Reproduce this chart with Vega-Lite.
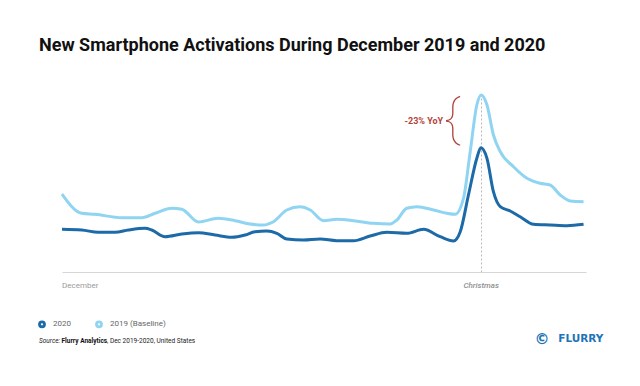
{
  "$schema": "https://vega.github.io/schema/vega-lite/v6.json",
  "width": 524,
  "height": 178,
  "autosize": "none",
  "padding": {"left": 62, "top": 94, "right": 54, "bottom": 114},
  "background": "white",
  "config": {"view": {"stroke": null}},
  "title": {
    "text": "New Smartphone Activations During December 2019 and 2020",
    "anchor": "start",
    "font": "Roboto",
    "fontSize": 18,
    "fontWeight": "bold",
    "color": "#111111",
    "dx": 1,
    "baseline": "alphabetic",
    "offset": 20
  },
  "layer": [
    {
      "data": {"values": [
        {"series": "2019 (Baseline)", "day": 1.0, "value": 78},
        {"series": "2019 (Baseline)", "day": 2.13, "value": 58.7},
        {"series": "2019 (Baseline)", "day": 2.89, "value": 57.7},
        {"series": "2019 (Baseline)", "day": 4.42, "value": 54.3},
        {"series": "2019 (Baseline)", "day": 5.57, "value": 54.3},
        {"series": "2019 (Baseline)", "day": 6.33, "value": 58.7},
        {"series": "2019 (Baseline)", "day": 7.28, "value": 63.7},
        {"series": "2019 (Baseline)", "day": 7.86, "value": 62.7},
        {"series": "2019 (Baseline)", "day": 8.81, "value": 50},
        {"series": "2019 (Baseline)", "day": 9.94, "value": 53.7},
        {"series": "2019 (Baseline)", "day": 10.91, "value": 51.3},
        {"series": "2019 (Baseline)", "day": 11.77, "value": 48},
        {"series": "2019 (Baseline)", "day": 12.53, "value": 47},
        {"series": "2019 (Baseline)", "day": 13.1, "value": 50.3},
        {"series": "2019 (Baseline)", "day": 13.87, "value": 62},
        {"series": "2019 (Baseline)", "day": 14.63, "value": 65.3},
        {"series": "2019 (Baseline)", "day": 15.21, "value": 62},
        {"series": "2019 (Baseline)", "day": 15.97, "value": 51.3},
        {"series": "2019 (Baseline)", "day": 16.73, "value": 52.7},
        {"series": "2019 (Baseline)", "day": 17.69, "value": 51.3},
        {"series": "2019 (Baseline)", "day": 18.83, "value": 48.7},
        {"series": "2019 (Baseline)", "day": 19.79, "value": 48},
        {"series": "2019 (Baseline)", "day": 20.17, "value": 52},
        {"series": "2019 (Baseline)", "day": 20.74, "value": 63.7},
        {"series": "2019 (Baseline)", "day": 21.32, "value": 65.3},
        {"series": "2019 (Baseline)", "day": 22.27, "value": 62},
        {"series": "2019 (Baseline)", "day": 23.04, "value": 58.7},
        {"series": "2019 (Baseline)", "day": 23.51, "value": 57.7},
        {"series": "2019 (Baseline)", "day": 23.99, "value": 74},
        {"series": "2019 (Baseline)", "day": 24.37, "value": 120.3},
        {"series": "2019 (Baseline)", "day": 24.75, "value": 167},
        {"series": "2019 (Baseline)", "day": 25.0, "value": 177},
        {"series": "2019 (Baseline)", "day": 25.33, "value": 167},
        {"series": "2019 (Baseline)", "day": 25.7, "value": 137},
        {"series": "2019 (Baseline)", "day": 26.09, "value": 120.3},
        {"series": "2019 (Baseline)", "day": 26.85, "value": 105.3},
        {"series": "2019 (Baseline)", "day": 27.62, "value": 93.7},
        {"series": "2019 (Baseline)", "day": 28.38, "value": 88.7},
        {"series": "2019 (Baseline)", "day": 28.95, "value": 87},
        {"series": "2019 (Baseline)", "day": 29.52, "value": 77},
        {"series": "2019 (Baseline)", "day": 30.1, "value": 71},
        {"series": "2019 (Baseline)", "day": 30.86, "value": 70.3},
        {"series": "2020", "day": 1.0, "value": 42.7},
        {"series": "2020", "day": 2.13, "value": 42},
        {"series": "2020", "day": 3.08, "value": 39.7},
        {"series": "2020", "day": 4.04, "value": 39.7},
        {"series": "2020", "day": 4.8, "value": 42},
        {"series": "2020", "day": 5.75, "value": 43.7},
        {"series": "2020", "day": 6.14, "value": 42},
        {"series": "2020", "day": 6.9, "value": 35.3},
        {"series": "2020", "day": 7.86, "value": 38},
        {"series": "2020", "day": 8.81, "value": 39.3},
        {"series": "2020", "day": 9.76, "value": 37},
        {"series": "2020", "day": 10.72, "value": 34.7},
        {"series": "2020", "day": 11.48, "value": 37},
        {"series": "2020", "day": 12.05, "value": 40.3},
        {"series": "2020", "day": 12.73, "value": 41},
        {"series": "2020", "day": 13.3, "value": 38.7},
        {"series": "2020", "day": 13.87, "value": 33},
        {"series": "2020", "day": 14.82, "value": 32},
        {"series": "2020", "day": 15.78, "value": 33},
        {"series": "2020", "day": 16.73, "value": 31.3},
        {"series": "2020", "day": 17.69, "value": 31.3},
        {"series": "2020", "day": 18.64, "value": 36},
        {"series": "2020", "day": 19.6, "value": 39.7},
        {"series": "2020", "day": 20.74, "value": 38.7},
        {"series": "2020", "day": 21.7, "value": 42.7},
        {"series": "2020", "day": 22.65, "value": 35.3},
        {"series": "2020", "day": 23.41, "value": 31},
        {"series": "2020", "day": 23.8, "value": 40.3},
        {"series": "2020", "day": 24.27, "value": 77},
        {"series": "2020", "day": 24.75, "value": 113.7},
        {"series": "2020", "day": 24.98, "value": 124.3},
        {"series": "2020", "day": 25.33, "value": 113.7},
        {"series": "2020", "day": 25.7, "value": 80.3},
        {"series": "2020", "day": 26.09, "value": 65.3},
        {"series": "2020", "day": 26.66, "value": 61},
        {"series": "2020", "day": 27.23, "value": 55.3},
        {"series": "2020", "day": 28.0, "value": 47.7},
        {"series": "2020", "day": 28.95, "value": 47},
        {"series": "2020", "day": 29.91, "value": 46.3},
        {"series": "2020", "day": 30.86, "value": 47.7}
      ]},
      "mark": {"type": "line", "strokeWidth": 3, "interpolate": "monotone"},
      "encoding": {
        "x": {
          "field": "day",
          "type": "quantitative",
          "scale": {"domain": [1, 31], "nice": false, "zero": false},
          "axis": {
            "values": [25],
            "labels": false,
            "ticks": false,
            "grid": true,
            "gridColor": "#b8b8b8",
            "gridDash": [2, 2],
            "gridWidth": 1,
            "domainColor": "#d6d6d6",
            "domainWidth": 1,
            "title": null
          }
        },
        "y": {"field": "value", "type": "quantitative", "scale": {"domain": [0, 178], "nice": false}, "axis": null},
        "color": {
          "field": "series",
          "type": "nominal",
          "scale": {"domain": ["2020", "2019 (Baseline)"], "range": ["#1c6aa8", "#8fd4f1"]},
          "legend": {
            "orient": "none",
            "legendX": -24,
            "legendY": 226,
            "direction": "horizontal",
            "title": null,
            "symbolType": "circle",
            "symbolSize": 8,
            "symbolStrokeWidth": 5,
            "labelFontSize": 8,
            "labelFont": "Roboto",
            "labelColor": "#666666",
            "labelOffset": 7,
            "columnPadding": 16
          }
        }
      }
    },
    {
      "data": {"values": [{"label": "December", "day": 1}]},
      "mark": {"type": "text", "align": "left", "baseline": "middle", "dy": 14, "fontSize": 8, "font": "Roboto", "color": "#9a9a9a"},
      "encoding": {"x": {"field": "day", "type": "quantitative"}, "y": {"datum": 0, "type": "quantitative"}, "text": {"field": "label"}}
    },
    {
      "data": {"values": [{"label": "Christmas", "day": 25}]},
      "mark": {"type": "text", "align": "center", "baseline": "middle", "dy": 14, "fontSize": 8, "fontStyle": "italic", "fontWeight": 500, "font": "Roboto", "color": "#8f8f8f"},
      "encoding": {"x": {"field": "day", "type": "quantitative"}, "y": {"datum": 0, "type": "quantitative"}, "text": {"field": "label"}}
    },
    {
      "data": {"values": [{"label": "-23% YoY"}]},
      "mark": {"type": "text", "align": "right", "baseline": "middle", "fontSize": 9, "fontWeight": "bold", "font": "Roboto", "color": "#b3433d"},
      "encoding": {"x": {"datum": 22.82, "type": "quantitative"}, "y": {"datum": 151.5, "type": "quantitative"}, "text": {"field": "label"}}
    },
    {
      "data": {"values": [{"label": "{"}]},
      "mark": {"type": "text", "align": "center", "baseline": "middle", "fontSize": 50, "fontWeight": 100, "font": "Roboto", "color": "#b3433d"},
      "encoding": {"x": {"datum": 23.34, "type": "quantitative"}, "y": {"datum": 152, "type": "quantitative"}, "text": {"field": "label"}}
    },
    {
      "data": {"values": [{"label": "Source:"}]},
      "mark": {"type": "text", "align": "left", "baseline": "middle", "dx": -23, "dy": 69, "fontSize": 6.5, "fontStyle": "italic", "font": "Roboto", "color": "#222222"},
      "encoding": {"x": {"datum": 1, "type": "quantitative"}, "y": {"datum": 0, "type": "quantitative"}, "text": {"field": "label"}}
    },
    {
      "data": {"values": [{"label": "Flurry Analytics"}]},
      "mark": {"type": "text", "align": "left", "baseline": "middle", "dx": -0.5, "dy": 69, "fontSize": 6.5, "fontWeight": "bold", "font": "Roboto", "color": "#111111"},
      "encoding": {"x": {"datum": 1, "type": "quantitative"}, "y": {"datum": 0, "type": "quantitative"}, "text": {"field": "label"}}
    },
    {
      "data": {"values": [{"label": ", Dec 2019-2020, United States"}]},
      "mark": {"type": "text", "align": "left", "baseline": "middle", "dx": 45, "dy": 69, "fontSize": 6.5, "font": "Roboto", "color": "#222222"},
      "encoding": {"x": {"datum": 1, "type": "quantitative"}, "y": {"datum": 0, "type": "quantitative"}, "text": {"field": "label"}}
    },
    {
      "data": {"values": [{"label": "©"}]},
      "mark": {"type": "text", "align": "center", "baseline": "middle", "dy": 67, "fontSize": 15, "fontWeight": "bold", "font": "DejaVu Sans", "color": "#1f74b8"},
      "encoding": {"x": {"datum": 28.48, "type": "quantitative"}, "y": {"datum": 0, "type": "quantitative"}, "text": {"field": "label"}}
    },
    {
      "data": {"values": [{"label": "FLURRY"}]},
      "mark": {"type": "text", "align": "left", "baseline": "middle", "dy": 67, "fontSize": 10.5, "fontWeight": "bold", "font": "DejaVu Sans", "color": "#1f74b8"},
      "encoding": {"x": {"datum": 29.41, "type": "quantitative"}, "y": {"datum": 0, "type": "quantitative"}, "text": {"field": "label"}}
    }
  ]
}
